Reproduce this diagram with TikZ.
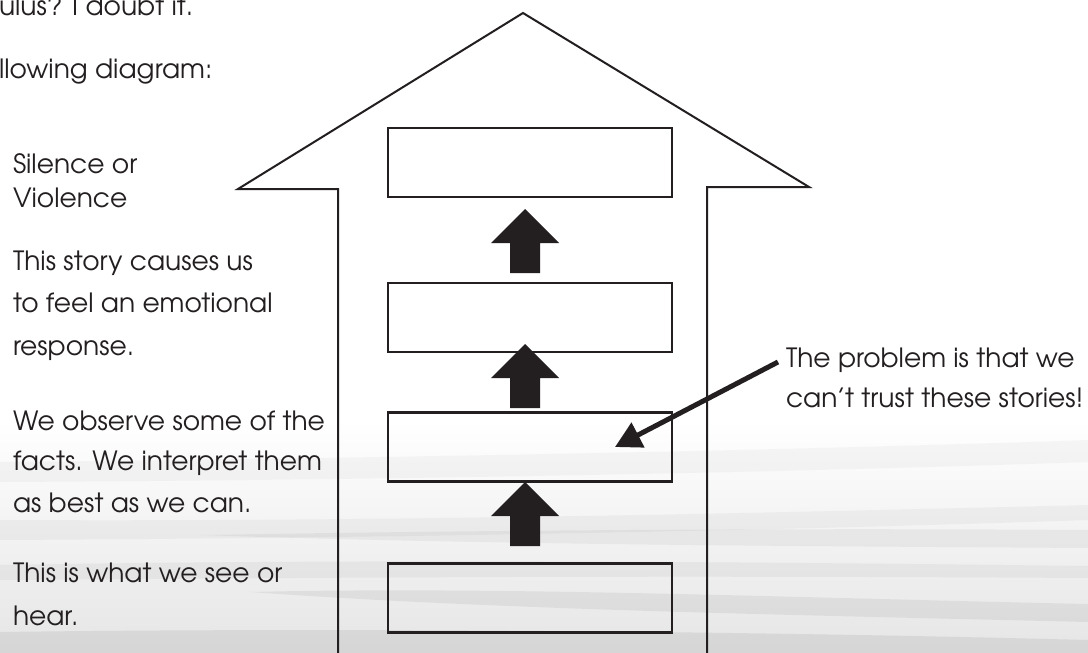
\documentclass[tikz,border=0pt]{standalone}
\usepackage{fontspec}
\setmainfont{texgyreadventor-regular.otf}
\usetikzlibrary{arrows.meta}
\definecolor{ink}{HTML}{231F20}
\begin{document}
\begin{tikzpicture}[x=1pt,y=-1pt,
  outline/.style={draw=ink, line width=2pt, line join=miter},
  stage/.style={draw=ink, line width=2.2pt, minimum width=284pt, minimum height=69pt, inner sep=0pt, outer sep=0pt},
  txt/.style={anchor=base west, inner sep=0pt, outer sep=0pt, font=\fontsize{26.5}{30}\selectfont, text=ink},
  pointer/.style={draw=ink, line width=5pt, -{Triangle[length=26pt,width=27pt]}},
  band/.style={fill=black!60, opacity=#1},
  uparrow/.pic={\fill[ink] (0,0) -- (34,34) -- (15,34) -- (15,64) -- (-15,64) -- (-15,34) -- (-34,34) -- cycle;}
]
\useasboundingbox (0,0) rectangle (1088,653);
% background
\fill[white] (0,0) rectangle (1088,653);
\shade[top color=white, bottom color=black!10] (0,420) rectangle (1088,653);
\fill[band=0.05] (0,462) .. controls (400,458) and (800,450) .. (1088,440) -- (1088,462) .. controls (800,472) and (400,480) .. (0,482) -- cycle;
\fill[band=0.06] (0,520) .. controls (400,522) and (800,512) .. (1088,505) -- (1088,520) .. controls (800,530) and (400,538) .. (0,540) -- cycle;
\fill[band=0.08] (200,535) .. controls (500,530) and (800,528) .. (1088,530) -- (1088,548) .. controls (800,546) and (500,545) .. (200,535) -- cycle;
\fill[band=0.10] (250,592) .. controls (500,586) and (800,598) .. (1088,604) -- (1088,622) .. controls (800,615) and (500,610) .. (250,592) -- cycle;
\fill[band=0.07] (0,565) .. controls (300,560) and (600,560) .. (1088,566) -- (1088,578) .. controls (600,575) and (300,578) .. (0,580) -- cycle;
\fill[band=0.12] (0,632) .. controls (300,628) and (700,630) .. (1088,640) -- (1088,653) -- (0,653) -- cycle;

% top text
\node[txt] (t0) at (-1,16) {ulus? I doubt it.};
\node[txt] (t1) at (-1,78) {llowing diagram:};

% left text
\node[txt] (l1) at (13,173) {Silence or};
\node[txt] (l2) at (13,207) {Violence};
\node[txt] (l3) at (13,270) {This story causes us};
\node[txt] (l4) at (13,312) {to feel an emotional};
\node[txt] (l5) at (13,355) {response.};
\node[txt] (l6) at (13,430) {We observe some of the};
\node[txt] (l7) at (13,470) {facts. We interpret them};
\node[txt] (l8) at (13,512) {as best as we can.};
\node[txt] (l9) at (13,582) {This is what we see or};
\node[txt] (l10) at (13,625) {hear.};

% big arrow outline
\coordinate (ob) at (338,655);
\coordinate (ol) at (338,189);
\coordinate (bl) at (238,189);
\coordinate (apex) at (523,13);
\coordinate (br) at (809,187);
\coordinate (or) at (707,187);
\coordinate (obr) at (707,655);
\draw[outline] (ob) -- (ol) -- (bl) -- (apex) -- (br) -- (or) -- (obr);

% stages
\node[stage] (s4) at (530,162.5) {};
\node[stage] (s3) at (530,317.5) {};
\node[stage] (s2) at (530,447) {};
\node[stage] (s1) at (530,598) {};

% block arrows
\pic at (525,209) {uparrow};
\pic at (525,344) {uparrow};
\pic at (525,482) {uparrow};

% right text and pointer
\node[txt] (r1) at (786,367) {The problem is that we};
\node[txt] (r2) at (786,407) {can’t trust these stories!};
\coordinate (ps) at (778,362);
\coordinate (pe) at (615,447);
\draw[pointer] (ps) -- (pe);
\end{tikzpicture}
\end{document}
